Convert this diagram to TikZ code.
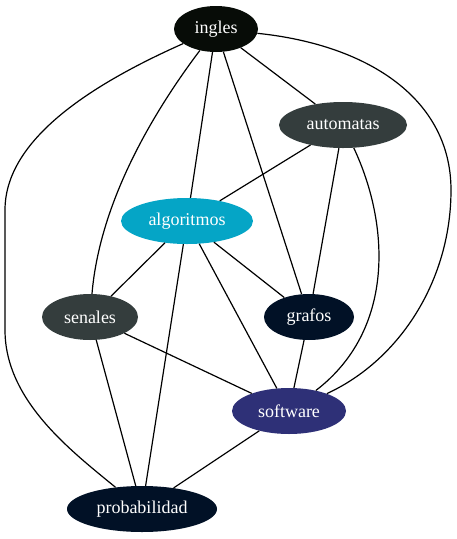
\documentclass[tikz,border=0pt]{standalone}
\usepackage{fontspec}
\setmainfont{Liberation Serif}
\usetikzlibrary{shapes.geometric}
\definecolor{cIngles}{HTML}{070C07}
\definecolor{cSlate}{HTML}{343D3D}
\definecolor{cAlgo}{HTML}{05A5C6}
\definecolor{cNavy}{HTML}{011126}
\definecolor{cSoft}{HTML}{2E3077}
\tikzset{
  gnode/.style={ellipse, inner sep=0pt, minimum height=46pt, text=white,
    font=\fontsize{18}{20}\selectfont},
  gedge/.style={draw=black, line width=1.2pt}
}
\begin{document}
\begin{tikzpicture}[x=1pt,y=-1pt]
\useasboundingbox (0,0) rectangle (456,539);
\node[gnode, fill=cIngles, minimum width=84pt] (ingles) at (216,29) {ingles};
\node[gnode, fill=cSlate, minimum width=128pt] (automatas) at (343,125) {automatas};
\node[gnode, fill=cAlgo, minimum width=132pt] (algoritmos) at (187,221) {algoritmos};
\node[gnode, fill=cSlate, minimum width=96pt] (senales) at (90,317) {senales};
\node[gnode, fill=cNavy, minimum width=90pt] (grafos) at (309,317) {grafos};
\node[gnode, fill=cSoft, minimum width=114pt] (software) at (289,411) {software};
\node[gnode, fill=cNavy, minimum width=150pt] (probabilidad) at (142,509) {probabilidad};
\begin{scope}[gedge]
\draw (ingles) -- (automatas);
\draw (ingles) -- (algoritmos);
\draw (ingles) -- (grafos);
\draw (ingles) .. controls (155,110) and (100,200) .. (senales);
\draw (ingles) .. controls (90,85) and (5,140) .. (5,210) -- (5,330) .. controls (5,400) and (70,450) .. (probabilidad);
\draw (ingles) .. controls (370,45) and (451,100) .. (451,190) .. controls (451,280) and (400,360) .. (software);
\draw (automatas) -- (algoritmos);
\draw (automatas) -- (grafos);
\draw (automatas) .. controls (390,225) and (395,330) .. (software);
\draw (algoritmos) -- (senales);
\draw (algoritmos) -- (grafos);
\draw (algoritmos) -- (software);
\draw (algoritmos) -- (probabilidad);
\draw (senales) -- (software);
\draw (senales) -- (probabilidad);
\draw (grafos) -- (software);
\draw (software) -- (probabilidad);
\end{scope}
\end{tikzpicture}
\end{document}
